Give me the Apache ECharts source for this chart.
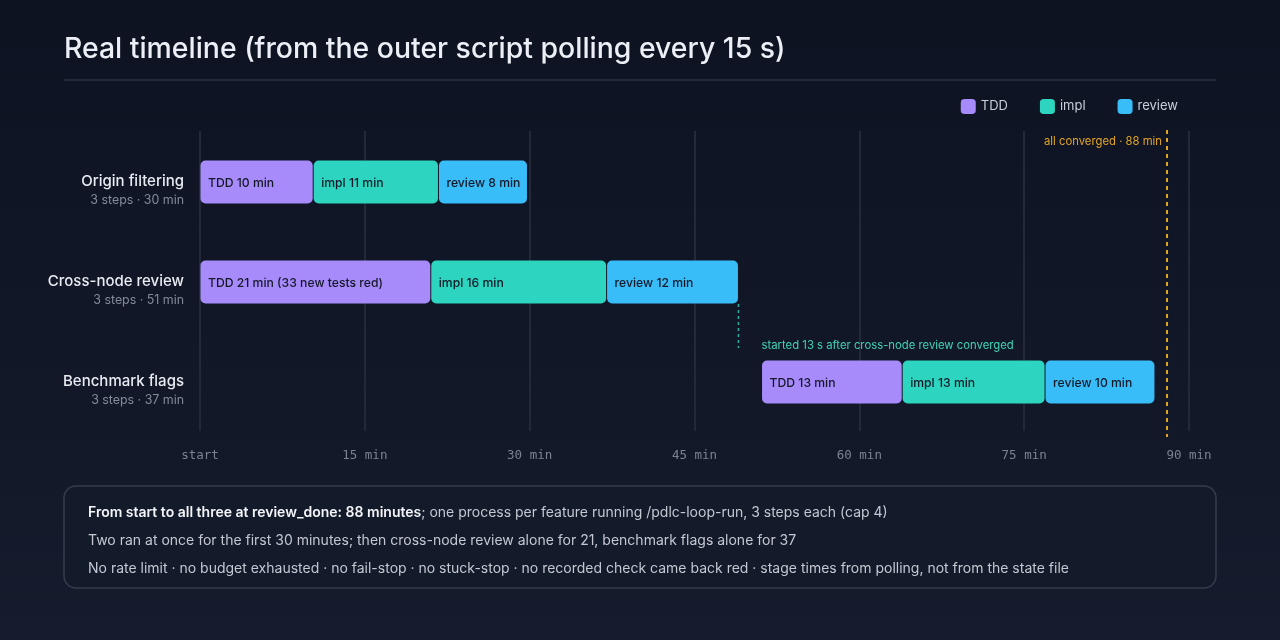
<!DOCTYPE html>
<html>
<head>
<meta charset="utf-8">
<script src="https://cdn.jsdelivr.net/npm/echarts@6/dist/echarts.min.js"></script>
<style>
  html, body { margin: 0; padding: 0; background: #0f1423; }
  #main { width: 1280px; height: 640px; }
</style>
</head>
<body>
<div id="main"></div>
<script>
var features = ['Origin filtering', 'Cross-node review', 'Benchmark flags'];
var featureNotes = ['3 steps · 30 min', '3 steps · 51 min', '3 steps · 37 min'];
var stages = ['TDD', 'impl', 'review'];
var stageColors = ['#a78bfa', '#2dd4bf', '#38bdf8'];
// start / end of each stage in minutes, per feature
var stageStart = [
  [0, 10.3, 21.7],
  [0, 21, 37],
  [51.1, 63.9, 76.9]
];
var stageEnd = [
  [10.3, 21.7, 29.8],
  [21, 37, 49],
  [63.9, 76.9, 86.9]
];
var stageLabels = [
  ['TDD 10 min', 'impl 11 min', 'review 8 min'],
  ['TDD 21 min (33 new tests red)', 'impl 16 min', 'review 12 min'],
  ['TDD 13 min', 'impl 13 min', 'review 10 min']
];
var xTicks = [0, 15, 30, 45, 60, 75, 90];
var xTickLabels = ['start', '15 min', '30 min', '45 min', '60 min', '75 min', '90 min'];
var convergedAt = 88;
var convergedNote = 'all converged · 88 min';
var handoffAt = 49;
var handoffNote = 'started 13 s after cross-node review converged';
var summaryLines = [
  ['From start to all three at review_done: 88 minutes', '; one process per feature running /pdlc-loop-run, 3 steps each (cap 4)'],
  ['', 'Two ran at once for the first 30 minutes; then cross-node review alone for 21, benchmark flags alone for 37'],
  ['', 'No rate limit · no budget exhausted · no fail-stop · no stuck-stop · no recorded check came back red · stage times from polling, not from the state file']
];

var FONT = 'Inter, "Noto Sans", sans-serif';
var myChart = echarts.init(document.getElementById('main'));

function stageRenderer(k) {
  return function (params, api) {
    var cat = api.value(0);
    var p0 = api.coord([api.value(1), cat]);
    var p1 = api.coord([api.value(2), cat]);
    var h = 43;
    return {
      type: 'group',
      children: [
        {
          type: 'rect',
          shape: { x: p0[0] + 0.5, y: p0[1] - h / 2 + 1, width: p1[0] - p0[0] - 1, height: h, r: 5 },
          style: { fill: stageColors[k] }
        },
        {
          type: 'text',
          style: {
            x: p0[0] + 8, y: p0[1] + 2,
            text: stageLabels[params.dataIndex][k],
            fill: '#141827', fontSize: 12.2, fontWeight: 500, fontFamily: FONT,
            verticalAlign: 'middle', align: 'left'
          }
        }
      ]
    };
  };
}

var stageSeries = stages.map(function (name, k) {
  return {
    name: name,
    type: 'custom',
    color: stageColors[k],
    renderItem: stageRenderer(k),
    encode: { x: [1, 2], y: 0 },
    data: features.map(function (f, i) { return [i, stageStart[i][k], stageEnd[i][k]]; })
  };
});

var convergedSeries = {
  type: 'custom',
  silent: true,
  renderItem: function (params, api) {
    var cs = params.coordSys;
    var p = api.coord([api.value(0), 0]);
    return {
      type: 'group',
      children: [
        {
          type: 'line',
          shape: { x1: p[0], y1: cs.y - 1, x2: p[0], y2: cs.y + cs.height + 6 },
          style: { stroke: '#e3a524', lineWidth: 2, lineDash: [4, 4] }
        },
        {
          type: 'text',
          style: {
            x: p[0] - 5, y: cs.y + 11, text: convergedNote,
            fill: '#e3a524', fontSize: 11.3, fontFamily: FONT,
            align: 'right', verticalAlign: 'middle'
          }
        }
      ]
    };
  },
  encode: { x: 0 },
  data: [[convergedAt]]
};

var handoffSeries = {
  type: 'custom',
  silent: true,
  renderItem: function (params, api) {
    var band = api.size([0, 1])[1];
    var p = api.coord([api.value(0), 1]);
    var q = api.coord([stageStart[2][0], 2]);
    return {
      type: 'group',
      children: [
        {
          type: 'line',
          shape: { x1: p[0], y1: p[1] + 23, x2: p[0], y2: q[1] - band * 0.33 },
          style: { stroke: '#2dd4bf', lineWidth: 1.5, lineDash: [3, 3], opacity: 0.8 }
        },
        {
          type: 'text',
          style: {
            x: q[0], y: q[1] - 35, text: handoffNote,
            fill: '#3fd3b8', fontSize: 11.3, fontFamily: FONT,
            align: 'left', verticalAlign: 'middle'
          }
        }
      ]
    };
  },
  encode: { x: 0 },
  data: [[handoffAt]]
};

var summaryText = summaryLines.map(function (l) {
  return (l[0] ? '{b|' + l[0] + '}' : '') + '{r|' + l[1] + '}';
}).join('\n');

option = {
  backgroundColor: {
    type: 'linear', x: 0, y: 0, x2: 0, y2: 1,
    colorStops: [{ offset: 0, color: '#0e1322' }, { offset: 1, color: '#161b2d' }]
  },
  textStyle: { fontFamily: FONT },
  title: {
    text: 'Real timeline (from the outer script polling every 15 s)',
    left: 59, top: 30,
    textStyle: { color: '#eceff5', fontSize: 28.4, fontWeight: 500, fontFamily: FONT }
  },
  legend: {
    data: stages.map(function (s) { return { name: s, icon: 'roundRect' }; }),
    right: 97, top: 94,
    itemWidth: 15, itemHeight: 15, itemGap: 32,
    textStyle: { color: '#c9cfd9', fontSize: 13, fontFamily: FONT }
  },
  grid: { left: 200, right: 91, top: 131, bottom: 209 },
  xAxis: {
    type: 'value',
    min: 0, max: 90, interval: 15,
    axisLine: { show: false },
    axisTick: { show: false },
    splitLine: { show: true, lineStyle: { color: '#222a3a', width: 2 } },
    axisLabel: {
      margin: 18,
      color: '#7a8292', fontSize: 12.5, fontFamily: '"DejaVu Sans Mono", monospace',
      formatter: function (v) { return xTickLabels[xTicks.indexOf(v)]; }
    }
  },
  yAxis: {
    type: 'category',
    inverse: true,
    data: features,
    axisLine: { show: false },
    axisTick: { show: false },
    splitLine: { show: false },
    axisLabel: {
      margin: 16,
      formatter: function (v, i) { return '{e| }\n{n|' + v + '}\n{s|' + featureNotes[i] + '}'; },
      rich: {
        e: { fontSize: 10, lineHeight: 19, align: 'right' },
        n: { color: '#e8ebf1', fontSize: 15, fontWeight: 500, fontFamily: FONT, lineHeight: 20, align: 'right' },
        s: { color: '#838b9b', fontSize: 12.4, fontFamily: FONT, lineHeight: 18, align: 'right' }
      }
    }
  },
  graphic: [
    {
      type: 'line', silent: true,
      shape: { x1: 64, y1: 80, x2: 1216, y2: 80 },
      style: { stroke: '#2a3142', lineWidth: 1.5 }
    },
    {
      type: 'rect', silent: true,
      shape: { x: 64, y: 486, width: 1152, height: 102, r: 12 },
      style: { fill: '#131a29', stroke: '#343c4c', lineWidth: 1.5 }
    },
    {
      type: 'text', silent: true,
      left: 88, top: 506,
      style: {
        text: summaryText,
        rich: {
          b: { fill: '#f3f5f9', fontSize: 14, fontWeight: 600, fontFamily: FONT, lineHeight: 28 },
          r: { fill: '#c3c8d2', fontSize: 14, fontFamily: FONT, lineHeight: 28 }
        }
      }
    }
  ],
  series: stageSeries.concat([convergedSeries, handoffSeries])
};

myChart.setOption(option);
</script>
</body>
</html>
